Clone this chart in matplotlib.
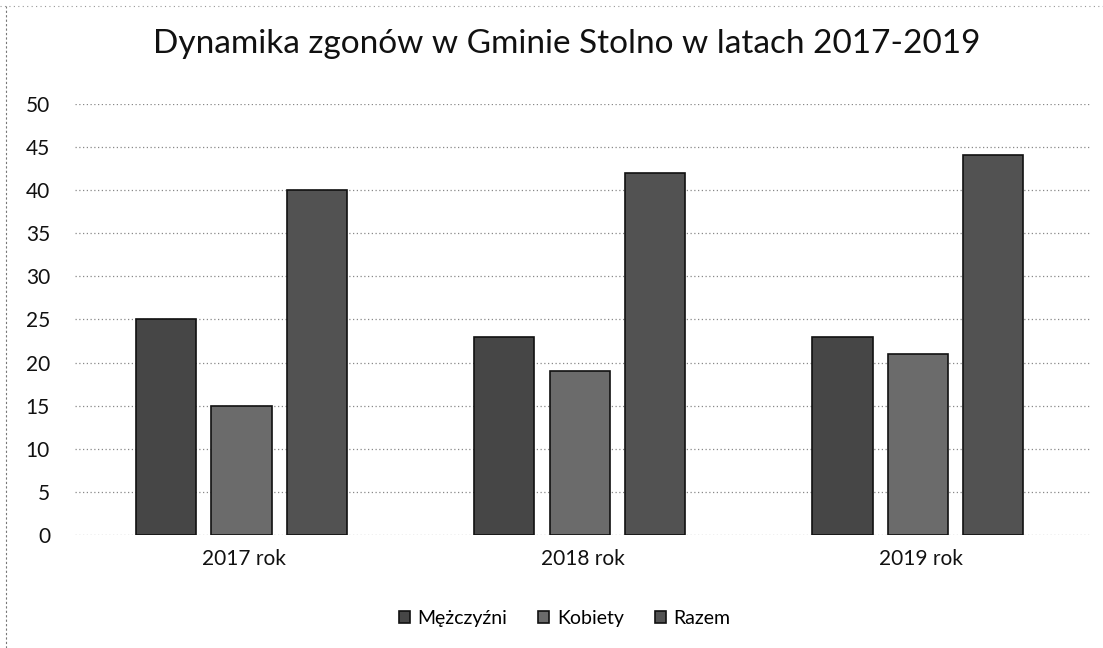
import matplotlib.pyplot as plt
import numpy as np

plt.rcParams['font.family'] = ['Lato', 'DejaVu Sans']

lata = ["2017 rok", "2018 rok", "2019 rok"]
mezczyzni = [25, 23, 23]
kobiety = [15, 19, 21]
razem = [40, 42, 44]

serie = [("Mężczyźni", mezczyzni, "#464646"),
         ("Kobiety", kobiety, "#6b6b6b"),
         ("Razem", razem, "#525252")]

fig = plt.figure(figsize=(11.03, 6.48), dpi=100)
ax = fig.add_axes([0.068, 0.174, 0.92, 0.666])

x = np.arange(len(lata))
szer = 0.178
odstep = 0.223
for i, (nazwa, wart, kolor) in enumerate(serie):
    ax.bar(x + (i - 1) * odstep - 0.008, wart, szer, color=kolor, edgecolor="#111111",
           linewidth=1.2, label=nazwa, zorder=3)

ax.set_ylim(0, 50)
ax.set_xlim(-0.5, 2.5)
ax.set_yticks(range(0, 51, 5))
ax.set_xticks(x)
ax.set_xticklabels(lata)
ax.tick_params(axis="both", length=0, labelsize=15, colors="#111111")
ax.tick_params(axis="y", pad=18)
ax.tick_params(axis="x", pad=10)
ax.yaxis.grid(True, linestyle=(0, (1, 2)), color="#888888", linewidth=0.9, zorder=0)
for s in ax.spines.values():
    s.set_visible(False)

fig.suptitle("Dynamika zgonów w Gminie Stolno w latach 2017-2019",
             fontsize=24, y=0.955, x=0.514, color="#111111")

fig.legend(loc="center", bbox_to_anchor=(0.512, 0.046), ncol=3, frameon=False,
           fontsize=14, handlelength=0.55, handleheight=0.55, handletextpad=0.4,
           columnspacing=1.6)

# brzegi skanu
fig.add_artist(plt.Line2D([0.005, 0.005], [0.0, 0.99], color="#777777",
                          linestyle=(0, (2, 2)), linewidth=0.8))
fig.add_artist(plt.Line2D([0.0, 1.0], [0.99, 0.99], color="#999999",
                          linestyle=(0, (1, 3)), linewidth=0.8))

fig.savefig("out.png", dpi=100)
